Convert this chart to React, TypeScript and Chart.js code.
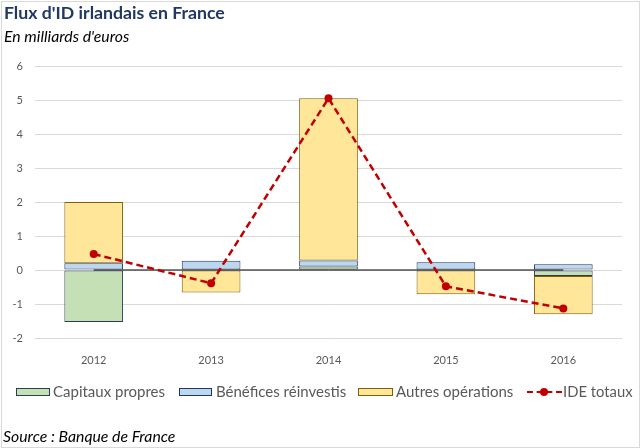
import React, { useEffect, useRef } from "react";
import { Chart, registerables } from "chart.js";

Chart.register(...registerables);

const years = ["2012", "2013", "2014", "2015", "2016"];
const capitauxPropres = [-1.53, 0.0, 0.1, 0.0, -0.18];
const beneficesReinvestis = [0.2, 0.27, 0.18, 0.23, 0.17];
const autresOperations = [1.8, -0.66, 4.77, -0.71, -1.12];
const ideTotaux = [0.47, -0.39, 5.05, -0.48, -1.13];
const zeroLine = [0, 0, 0, 0, 0];
const yMin = -2;
const yMax = 6;
const yStep = 1;

const seriesNames = ["Capitaux propres", "Bénéfices réinvestis", "Autres opérations", "IDE totaux"];

const FONT = "Lato, 'Open Sans', sans-serif";
const GREEN = "#C5E0B4";
const GREEN_BORDER = "#2F3D52";
const BLUE = "#BDD7EE";
const BLUE_BORDER = "#1F3864";
const YELLOW = "#FFE699";
const YELLOW_BORDER = "#7F6000";
const RED = "#C00000";

export default function App() {
  const canvasRef = useRef<HTMLCanvasElement | null>(null);

  useEffect(() => {
    const canvas = canvasRef.current;
    if (!canvas) return;
    const barCommon = {
      type: "bar" as const,
      stack: "bars",
      order: 3,
      borderWidth: 1,
      borderSkipped: false as const,
      barPercentage: 0.5,
      categoryPercentage: 1,
    };
    const chart = new Chart(canvas, {
      type: "bar",
      data: {
        labels: years,
        datasets: [
          { ...barCommon, label: seriesNames[0], data: capitauxPropres, backgroundColor: GREEN, borderColor: GREEN_BORDER },
          { ...barCommon, label: seriesNames[1], data: beneficesReinvestis, backgroundColor: BLUE, borderColor: BLUE_BORDER },
          { ...barCommon, label: seriesNames[2], data: autresOperations, backgroundColor: YELLOW, borderColor: YELLOW_BORDER },
          {
            type: "line",
            label: "zero",
            data: zeroLine,
            stack: "zero",
            order: 2,
            borderColor: "#000000",
            borderWidth: 1,
            pointRadius: 0,
            fill: false,
          } as any,
          {
            type: "line",
            label: seriesNames[3],
            data: ideTotaux,
            stack: "ide",
            order: 1,
            borderColor: RED,
            borderWidth: 2.5,
            borderDash: [7, 4],
            pointRadius: 4,
            pointBackgroundColor: RED,
            pointBorderWidth: 0,
            fill: false,
          } as any,
        ],
      },
      options: {
        animation: false,
        responsive: false,
        layout: { padding: { top: 66, right: 19, bottom: 80, left: 0 } },
        plugins: { legend: { display: false }, tooltip: { enabled: false }, title: { display: false } },
        scales: {
          x: {
            stacked: true,
            grid: { display: false },
            border: { display: false },
            ticks: { color: "#595959", font: { family: FONT, size: 11 }, padding: 8 },
            afterFit: (s: any) => {
              s.height = 30;
            },
          },
          y: {
            stacked: true,
            min: yMin,
            max: yMax,
            ticks: { stepSize: yStep, color: "#595959", font: { family: FONT, size: 11 }, padding: 12 },
            grid: { color: "#D9D9D9", drawTicks: false, lineWidth: 1 },
            border: { display: false },
            afterFit: (s: any) => {
              s.width = 35;
            },
          },
        },
      },
    });
    return () => chart.destroy();
  }, []);

  const legendText: React.CSSProperties = {
    position: "absolute",
    top: 382,
    fontFamily: FONT,
    fontSize: 15,
    lineHeight: "18px",
    color: "#595959",
    whiteSpace: "nowrap",
  };
  const box = (left: number, width: number, bg: string, border: string): React.CSSProperties => ({
    position: "absolute",
    left,
    top: 388,
    width,
    height: 8,
    boxSizing: "border-box",
    background: bg,
    border: `1.5px solid ${border}`,
  });

  return (
    <div style={{ position: "absolute", left: 0, top: 0, width: 641, height: 448, background: "#fff", overflow: "hidden" }}>
      <div
        style={{
          position: "absolute",
          left: 1,
          top: 1,
          width: 639,
          height: 447,
          boxSizing: "border-box",
          border: "1px solid #D9D9D9",
        }}
      />
      <canvas ref={canvasRef} width={641} height={448} style={{ position: "absolute", left: 0, top: 0 }} />
      <div
        style={{
          position: "absolute",
          left: 4,
          top: 2,
          fontFamily: FONT,
          fontWeight: 700,
          fontSize: 17.7,
          lineHeight: "22px",
          color: "#1F3864",
          whiteSpace: "nowrap",
        }}
      >
        Flux d'ID irlandais en France
      </div>
      <div
        style={{
          position: "absolute",
          left: 4,
          top: 27,
          fontFamily: FONT,
          fontStyle: "italic",
          fontSize: 15.8,
          lineHeight: "18px",
          color: "#000",
          whiteSpace: "nowrap",
        }}
      >
        En milliards d'euros
      </div>

      <div style={box(16, 34, GREEN, GREEN_BORDER)} />
      <div style={{ ...legendText, left: 53 }}>{seriesNames[0]}</div>
      <div style={box(179, 33, BLUE, BLUE_BORDER)} />
      <div style={{ ...legendText, left: 216 }}>{seriesNames[1]}</div>
      <div style={box(358, 35, YELLOW, YELLOW_BORDER)} />
      <div style={{ ...legendText, left: 396 }}>{seriesNames[2]}</div>
      <div
        style={{
          position: "absolute",
          left: 527,
          top: 391,
          width: 35,
          height: 0,
          borderTop: `2.5px dashed ${RED}`,
        }}
      />
      <div
        style={{
          position: "absolute",
          left: 540,
          top: 388,
          width: 8,
          height: 8,
          borderRadius: "50%",
          background: RED,
        }}
      />
      <div style={{ ...legendText, left: 563, fontSize: 14.8 }}>{seriesNames[3]}</div>

      <div
        style={{
          position: "absolute",
          left: 3,
          top: 427,
          fontFamily: FONT,
          fontStyle: "italic",
          fontSize: 15.8,
          lineHeight: "18px",
          color: "#000",
          whiteSpace: "nowrap",
        }}
      >
        Source : Banque de France
      </div>
    </div>
  );
}
